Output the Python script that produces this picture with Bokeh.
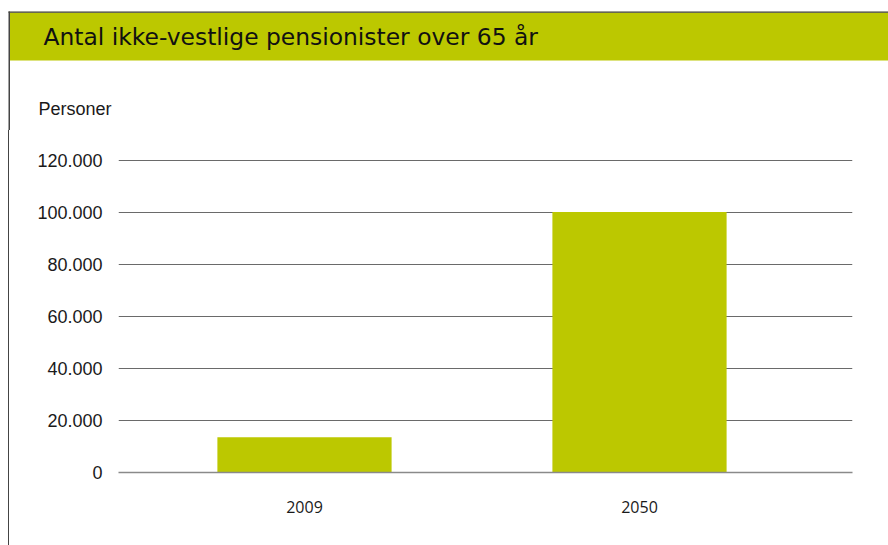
from bokeh.plotting import figure
from bokeh.layouts import column, row
from bokeh.models import ColumnDataSource, Range1d, FixedTicker, CustomJSTickFormatter, Div
from bokeh.core.properties import value
from bokeh.embed import file_html
from bokeh.resources import INLINE

# ---- data ----
title_text = "Antal ikke-vestlige pensionister over 65 år"
y_unit_label = "Personer"
years = ["2009", "2050"]
values = [13500, 100000]
y_ticks = [0, 20000, 40000, 60000, 80000, 100000, 120000]

GREEN = "#bcc800"
BORDER = "#444444"
PAGE_W, PAGE_H = 888, 545
TOP_H = 130
SIDE_W = 10


def blank(width, height, xr, yr):
    f = figure(width=width, height=height, output_backend="svg", toolbar_location=None,
               x_range=xr, y_range=yr, x_axis_location=None, y_axis_location=None,
               min_border=0, background_fill_color="white", border_fill_color="white")
    f.outline_line_color = None
    f.grid.visible = False
    return f


# ---- header (pixel-like coordinates, y downward) ----
top = blank(PAGE_W, TOP_H, Range1d(0, PAGE_W), Range1d(TOP_H, 0))
top.quad(left=[9.5], right=[PAGE_W], top=[12.3], bottom=[60],
         fill_color=GREEN, line_color=None)
top.quad(left=[8], right=[PAGE_W], top=[11], bottom=[12.3],
         fill_color="#3a3a2a", line_color=None)
top.quad(left=[8], right=[9.5], top=[11], bottom=[TOP_H],
         fill_color=BORDER, line_color=None)
top.text(x=[43], y=[36], text=[title_text], text_font=value("DejaVu Sans"),
         text_font_size=value("23.4px"), text_color="#111111",
         text_baseline="middle", text_align="left")
top.text(x=[38], y=[108], text=[y_unit_label], text_font=value("Liberation Sans"),
         text_font_size=value("18px"), text_color="#1a1a1a",
         text_baseline="middle", text_align="left")

# ---- left border strip (plain block, no plot frame) ----
MAIN_H = PAGE_H - TOP_H
side = Div(text="", width=SIDE_W, height=MAIN_H, margin=0,
           styles={"background": "linear-gradient(to right, #ffffff 0px, #ffffff 8px, "
                                 + BORDER + " 8px, " + BORDER + " 9.5px, #ffffff 9.5px)"})

# ---- main chart ----
MAIN_W = PAGE_W - SIDE_W
p = figure(width=MAIN_W, height=MAIN_H, output_backend="svg", toolbar_location=None,
           x_range=Range1d(-0.5552, 1.6358), y_range=Range1d(0, 120960),
           min_border_left=108, min_border_right=36, min_border_top=27,
           min_border_bottom=73, background_fill_color="white",
           border_fill_color="white")
p.outline_line_color = None

xs = list(range(len(years)))
src = ColumnDataSource(dict(x=xs, top=values, label=years))
p.vbar(x="x", top="top", bottom=0, width=0.52, source=src,
       fill_color=GREEN, line_color=None)

p.xgrid.grid_line_color = None
p.ygrid.ticker = FixedTicker(ticks=y_ticks)
p.ygrid.grid_line_color = "#6a6a6a"
p.ygrid.grid_line_width = 1

p.yaxis.ticker = FixedTicker(ticks=y_ticks)
p.yaxis.formatter = CustomJSTickFormatter(code="""
    return tick.toFixed(0).replace(/\\B(?=(\\d{3})+(?!\\d))/g, '.');
""")
p.yaxis.axis_line_color = None
p.yaxis.major_tick_line_color = None
p.yaxis.minor_tick_line_color = None
p.yaxis.major_tick_in = 0
p.yaxis.major_tick_out = 0
p.yaxis.major_label_standoff = 16
p.yaxis.major_label_text_font = "Liberation Sans"
p.yaxis.major_label_text_font_size = "18px"
p.yaxis.major_label_text_color = "#1a1a1a"

p.xaxis.ticker = FixedTicker(ticks=xs)
p.xaxis.major_label_overrides = {i: y for i, y in zip(xs, years)}
p.xaxis.axis_line_color = "#8a8a8a"
p.xaxis.axis_line_width = 1.5
p.xaxis.major_tick_line_color = None
p.xaxis.minor_tick_line_color = None
p.xaxis.major_tick_in = 0
p.xaxis.major_tick_out = 0
p.xaxis.major_label_standoff = 28
p.xaxis.major_label_text_font = "Open Sans"
p.xaxis.major_label_text_font_size = "16px"
p.xaxis.major_label_text_color = "#1a1a1a"

layout = column(top, row(side, p, spacing=0), spacing=0)
open("out.html", "w").write(file_html(layout, INLINE))
